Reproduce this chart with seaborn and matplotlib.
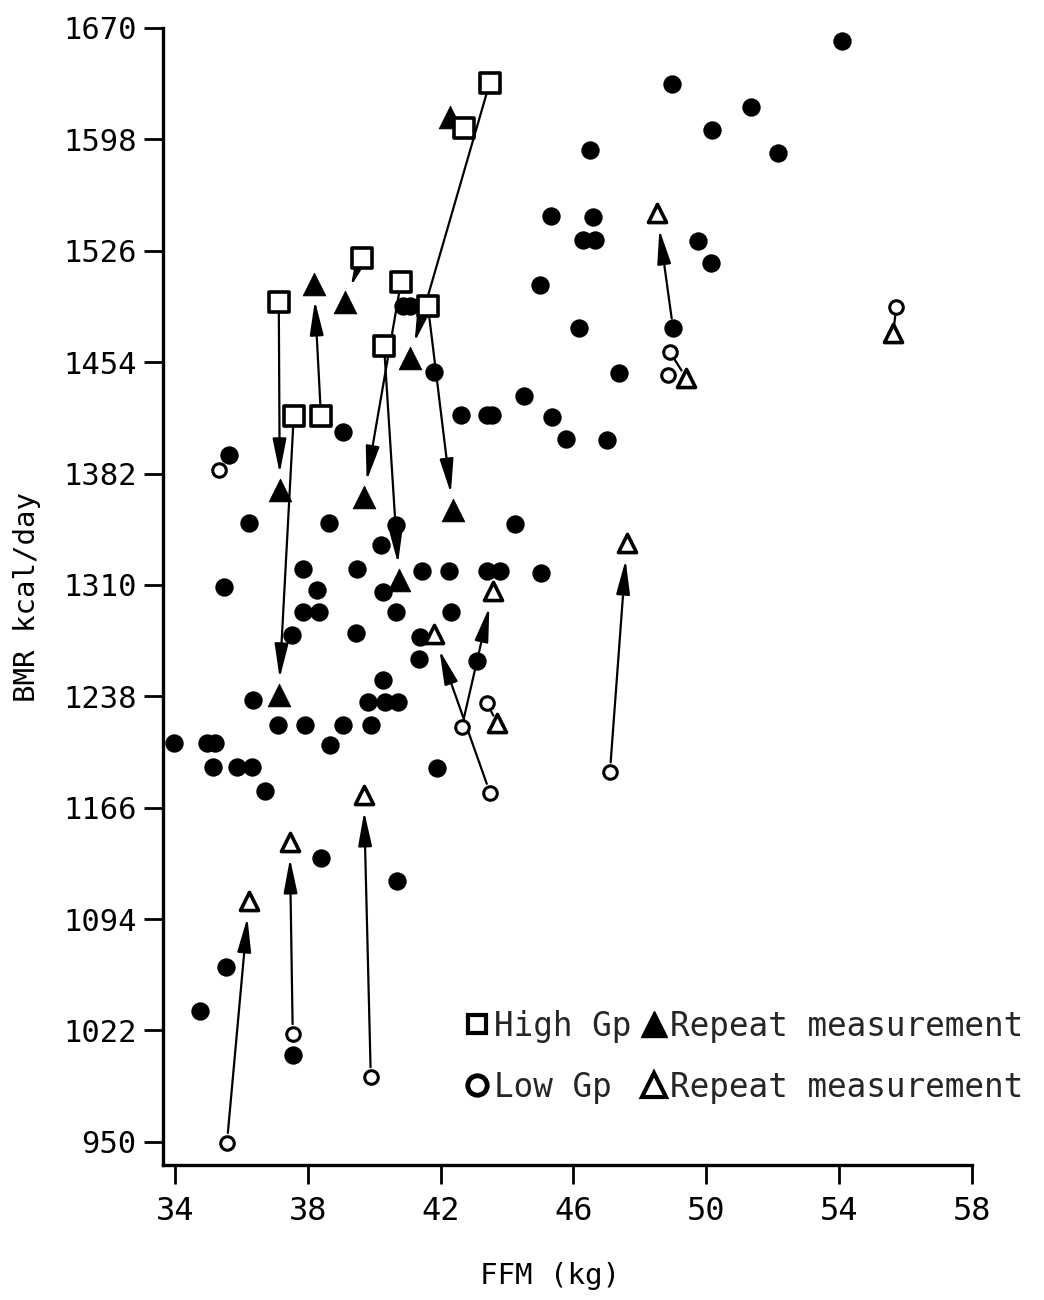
import numpy as np
import pandas as pd
import matplotlib
matplotlib.use("Agg")
import matplotlib.pyplot as plt
from matplotlib.lines import Line2D
import seaborn as sns

# --- Other subjects (filled circles): FFM (kg), BMR (kcal/day)
other_ffm = [54.09, 48.97, 51.35, 50.17, 52.16, 46.50,
             45.33, 46.59, 46.30, 46.65, 49.75, 50.14,
             44.99, 46.17, 49.00, 47.37, 41.80, 44.50,
             45.36, 45.78, 47.00, 42.61, 43.40, 43.55,
             39.06, 35.63, 36.23, 38.64, 40.66, 44.24,
             40.20,
             37.86, 39.48, 41.44, 42.25, 43.40, 43.80, 45.02,
             35.48, 38.28, 40.27,
             37.86, 38.34, 40.66, 42.31,
             37.52, 39.45, 41.38,
             41.35, 43.10, 40.27,
             36.35, 39.81, 40.33, 40.72,
             37.10, 37.92, 39.06, 39.90,
             33.97, 34.96, 35.20, 38.67,
             35.14, 35.87, 36.32, 36.71, 41.89,
             38.40, 40.69, 35.54, 34.75, 37.55,
             40.87, 41.08]
other_bmr = [1661.6, 1633.8, 1618.9, 1604.1, 1589.2, 1591.0,
             1548.5, 1547.8, 1533.0, 1533.0, 1532.3, 1518.0,
             1504.0, 1476.0, 1476.0, 1447.0, 1447.7, 1432.0,
             1418.6, 1404.4, 1403.7, 1420.0, 1420.0, 1420.0,
             1409.0, 1394.0, 1350.0, 1350.0, 1348.8, 1349.4,
             1335.8,
             1320.0, 1320.0, 1319.0, 1319.0, 1319.0, 1319.0, 1318.0,
             1308.7, 1306.8, 1305.5,
             1292.5, 1292.5, 1292.5, 1292.5,
             1277.7, 1279.0, 1276.4,
             1262.0, 1261.0, 1248.6,
             1235.7, 1234.4, 1234.4, 1234.4,
             1219.5, 1219.5, 1219.5, 1219.5,
             1208.0, 1207.9, 1207.9, 1206.6,
             1192.4, 1192.4, 1192.4, 1177.0, 1191.7,
             1133.5, 1118.6, 1063.0, 1034.7, 1006.0,
             1490.0, 1490.0]

# --- High Gp: first measurement (open squares) and repeat (filled triangles)
high_ffm = [37.13, 37.58, 38.40, 39.63, 40.81, 40.30, 41.62, 43.48, 42.70]
high_bmr = [1492.9, 1419.2, 1419.2, 1521.3, 1505.8, 1464.5, 1490.3, 1634.5, 1605.4]
high_rep_ffm = [37.16, 37.13, 38.19, 39.12, 39.69, 40.75, 42.37, 41.08, 42.28]
high_rep_bmr = [1371.4, 1238.9, 1504.5, 1493.0, 1366.8, 1313.0, 1358.5, 1456.7, 1612.5]
high_arrow = [True, True, True, True, True, True, True, True, False]

# --- Low Gp: first measurement (open circles) and repeat (open triangles)
low_ffm = [35.57, 37.55, 39.90, 47.10, 42.64, 43.49, 43.40, 48.91, 55.72]
low_bmr = [949.5, 1019.8, 992.0, 1189.0, 1218.0, 1175.5, 1233.7, 1460.4, 1489.7]
low_rep_ffm = [36.23, 37.46, 39.69, 47.61, 43.58, 41.80, 43.70, 49.39, 55.63]
low_rep_bmr = [1105.7, 1143.9, 1174.3, 1337.0, 1306.0, 1278.0, 1220.7, 1444.0, 1472.9]
low_arrow = [True, True, True, True, True, True, False, False, False]

# Low Gp subjects without a repeat measurement
low_single_ffm = [35.33, 48.85]
low_single_bmr = [1384.3, 1445.5]

# Repeat measurement reached from a filled-circle subject
extra_from = (49.00, 1476.0)
extra_to = (48.52, 1550.4)

x_ticks = [34, 38, 42, 46, 50, 54, 58]
y_ticks = [950, 1022, 1094, 1166, 1238, 1310, 1382, 1454, 1526, 1598, 1670]

sns.set_theme(style="white")
plt.rcParams["font.family"] = ["DejaVu Sans Mono", "DejaVu Sans"]

fig = plt.figure(figsize=(10.44, 13.0), dpi=100)
ax = fig.add_axes([0.156, 0.1038, 0.775, 0.8747])

INK = "black"

# Connecting lines / arrows (drawn first so markers sit on top)
def connect(x0, y0, x1, y1, head):
    if head:
        props = dict(arrowstyle="-|>,head_length=1.4,head_width=0.28",
                     mutation_scale=15, color=INK, lw=1.6,
                     shrinkA=7, shrinkB=12)
    else:
        props = dict(arrowstyle="-", color=INK, lw=1.6, shrinkA=5, shrinkB=6)
    ax.annotate("", xy=(x1, y1), xytext=(x0, y0), arrowprops=props, zorder=1)

for x0, y0, x1, y1, h in zip(high_ffm, high_bmr, high_rep_ffm, high_rep_bmr, high_arrow):
    if h:
        connect(x0, y0, x1, y1, True)
for x0, y0, x1, y1, h in zip(low_ffm, low_bmr, low_rep_ffm, low_rep_bmr, low_arrow):
    connect(x0, y0, x1, y1, h)
connect(extra_from[0], extra_from[1], extra_to[0], extra_to[1], True)

df_other = pd.DataFrame({"FFM": other_ffm, "BMR": other_bmr})
df_high = pd.DataFrame({"FFM": high_ffm, "BMR": high_bmr})
df_high_rep = pd.DataFrame({"FFM": high_rep_ffm, "BMR": high_rep_bmr})
df_low = pd.DataFrame({"FFM": low_ffm + low_single_ffm, "BMR": low_bmr + low_single_bmr})
df_low_rep = pd.DataFrame({"FFM": low_rep_ffm + [extra_to[0]],
                           "BMR": low_rep_bmr + [extra_to[1]]})

sns.scatterplot(data=df_other, x="FFM", y="BMR", ax=ax, marker="o", s=175,
                color=INK, edgecolor=INK, linewidth=0, zorder=3)
sns.scatterplot(data=df_high_rep, x="FFM", y="BMR", ax=ax, marker="^", s=270,
                color=INK, edgecolor=INK, linewidth=0.5, zorder=3)
sns.scatterplot(data=df_high, x="FFM", y="BMR", ax=ax, marker="s", s=190,
                facecolor="white", edgecolor=INK, linewidth=2.6, zorder=4)
sns.scatterplot(data=df_low, x="FFM", y="BMR", ax=ax, marker="o", s=95,
                facecolor="white", edgecolor=INK, linewidth=2.2, zorder=4)
sns.scatterplot(data=df_low_rep, x="FFM", y="BMR", ax=ax, marker="^", s=170,
                facecolor="white", edgecolor=INK, linewidth=2.6, zorder=4)

ax.set_xlim(33.64, 58.0)
ax.set_ylim(935, 1670)
ax.set_xticks(x_ticks)
ax.set_yticks(y_ticks)
ax.tick_params(axis="x", bottom=True, direction="out", length=14, width=2,
               pad=8, labelsize=23, colors=INK)
ax.tick_params(axis="y", left=True, direction="out", length=14, width=2,
               pad=5, labelsize=22, colors=INK)

for side in ("top", "right"):
    ax.spines[side].set_visible(False)
for side in ("left", "bottom"):
    ax.spines[side].set_linewidth(2.4)
    ax.spines[side].set_color(INK)

ax.set_xlabel("FFM (kg)", fontsize=21, color=INK)
ax.set_ylabel("BMR kcal/day", fontsize=21, color=INK)
ax.xaxis.set_label_coords(0.478, -0.085)
ax.yaxis.set_label_coords(-0.150, 0.50)

handles = [
    Line2D([], [], ls="none", marker="s", ms=13, mfc="white", mec=INK, mew=3),
    Line2D([], [], ls="none", marker="o", ms=14, mfc="white", mec=INK, mew=3.5),
    Line2D([], [], ls="none", marker="^", ms=19, mfc=INK, mec=INK),
    Line2D([], [], ls="none", marker="^", ms=17, mfc="white", mec=INK, mew=3),
]
labels = ["High Gp", "Low Gp", "Repeat measurement", "Repeat measurement"]
ax.legend(handles, labels, ncol=2, frameon=False, fontsize=23.5,
          loc="lower right", bbox_to_anchor=(1.092, 0.034),
          handlelength=0.7, handletextpad=0.15, columnspacing=0.35,
          labelspacing=0.85, borderpad=0.2)

fig.savefig("out.png", dpi=100, facecolor="white")
